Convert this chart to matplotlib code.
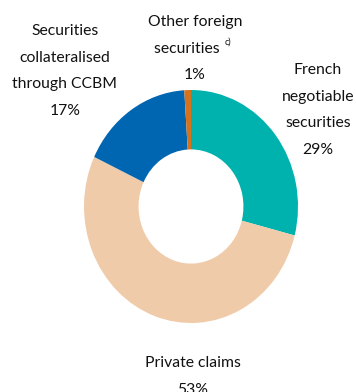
import matplotlib.pyplot as plt

# Breakdown of collateral, share of total (%)
names = ['French\nnegotiable\nsecurities', 'Private claims',
         'Securities\ncollateralised\nthrough CCBM', 'Other foreign\nsecurities']
shares = [29, 53, 17, 1]
colors = ['#00B2AE', '#F0CBA9', '#0066B2', '#D5721E']
notes = ['', '', '', 'c)']

W, H = 356, 392
fig = plt.figure(figsize=(W / 100, H / 100), dpi=100)

# donut is slightly taller than wide in the original layout
ax = fig.add_axes([84 / W, 69 / H, 214 / W, 233 / H])
ax.pie(shares, colors=colors, startangle=90, counterclock=False,
       wedgeprops=dict(width=0.51, linewidth=0))
ax.set_aspect('auto')
ax.set_xlim(-1, 1)
ax.set_ylim(-1, 1)

# label anchors in pixels: (centre x, top y)
anchors = [(318, 63), (193, 356), (65, 24), (195, 15)]
font = dict(family='Lato', fontsize=11.3, color='#111111')
for name, share, note, (x, y) in zip(names, shares, notes, anchors):
    if note:
        # leave room for the footnote marker so the line stays centred
        name = name + ' ' * 4
    fig.text(x / W, 1 - y / H, f'{name}\n{share}%', ha='center', va='top',
             linespacing=2.15, **font)

# footnote marker after "securities" of the small slice
fig.text(225 / W, 1 - 38 / H, notes[3], ha='left', va='top',
         family='Lato', fontsize=6.5, color='#111111')

fig.savefig('out.png', dpi=100)
